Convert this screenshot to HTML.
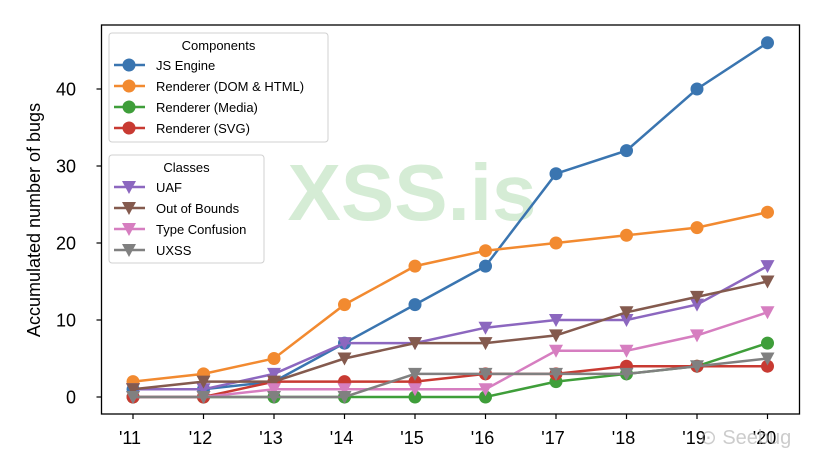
<!DOCTYPE html>
<html><head><meta charset="utf-8"><style>
body{margin:0;background:#fff}
svg{display:block;font-family:"Liberation Sans","DejaVu Sans",sans-serif}
</style></head><body>
<svg id="chart" width="824" height="466" viewBox="0 0 824 466">
<rect x="0" y="0" width="824" height="466" fill="#fff"/>
<text x="412" y="220" font-size="80" font-weight="bold" fill="#2ca02c" fill-opacity="0.2" text-anchor="middle">XSS.is</text>
<g id="grid"></g>
<g id="series"></g>
<rect x="101.5" y="25" width="698" height="389" fill="none" stroke="#000" stroke-width="1.3"/>
<text transform="translate(40,220) rotate(-90)" font-size="18" text-anchor="middle">Accumulated number of bugs</text>
<g id="legend"></g>
<text x="700" y="444" font-size="20" fill="#aaa" fill-opacity="0.6">⊙ Seebug</text>
</svg>
<script>
const years = ["'11","'12","'13","'14","'15","'16","'17","'18","'19","'20"];
const yTicks = [0,10,20,30,40];
const jsEngine = [1,1,2,7,12,17,29,32,40,46];
const domHtml = [2,3,5,12,17,19,20,21,22,24];
const media = [0,0,0,0,0,0,2,3,4,7];
const svgR = [0,0,2,2,2,3,3,4,4,4];
const uaf = [1,1,3,7,7,9,10,10,12,17];
const oob = [1,2,2,5,7,7,8,11,13,15];
const typeConf = [0,0,1,1,1,1,6,6,8,11];
const uxss = [0,0,0,0,3,3,3,3,4,5];

const NS="http://www.w3.org/2000/svg";
const xs = i => 133 + i*70.5;
const ys = v => 397 - v*7.7;
function mk(tag, attrs, parent){const e=document.createElementNS(NS,tag);for(const k in attrs)e.setAttribute(k,attrs[k]);parent.appendChild(e);return e;}
const grid=document.getElementById('grid'), ser=document.getElementById('series'), leg=document.getElementById('legend');

years.forEach((y,i)=>{
  const t=mk('line',{x1:xs(i),x2:xs(i),y1:414,y2:419,stroke:'#000','stroke-width':1.2},grid);
  
  
  const l=mk('text',{x:xs(i)-3,y:444,'font-size':18,'text-anchor':'middle'},grid);
  l.textContent=y;
  
  
});
yTicks.forEach(v=>{
  const t=mk('line',{x1:96.5,x2:101.5,y1:ys(v),y2:ys(v),stroke:'#000','stroke-width':1.2},grid);
  
  
  const l=mk('text',{x:76,y:ys(v)+6.5,'font-size':18,'text-anchor':'end'},grid);
  l.textContent=v;
  
  
});

function marker(g,x,y,shape,c){
  if(shape==='o') return mk('circle',{cx:x,cy:y,r:6.5,fill:c},g);
  return mk('path',{d:`M${x-7},${y-6}L${x+7},${y-6}L${x},${y+7}Z`,fill:c},g);
}
const seriesList=[
 ['js-engine',jsEngine,'#3a75b0','o'],
 ['renderer-dom-html',domHtml,'#f28a30','o'],
 ['renderer-media',media,'#3f9e3a','o'],
 ['renderer-svg',svgR,'#c83a32','o'],
 ['uaf',uaf,'#8c67bf','v'],
 ['out-of-bounds',oob,'#845a4e','v'],
 ['type-confusion',typeConf,'#d67ec0','v'],
 ['uxss',uxss,'#808080','v']
];
seriesList.forEach(([n,d,c,s])=>{
  const g=mk('g',{},ser);
  
  
  const p=mk('polyline',{points:d.map((v,i)=>xs(i)+','+ys(v)).join(' '),fill:'none',stroke:c,'stroke-width':2.5},g);
  
  
  d.forEach((v,i)=>{const m=marker(g,xs(i),ys(v),s,c);
    
    });
});

function legendBox(x,y,w,h,title,items){
  const g=mk('g',{},leg);
  
  
  mk('rect',{x:x,y:y,width:w,height:h,rx:3,fill:'#fff','fill-opacity':0.85,stroke:'#d0d0d0','stroke-width':1},g);
  const t=mk('text',{x:x+w/2,y:y+17,'font-size':13,'text-anchor':'middle'},g);
  t.textContent=title;
  items.forEach((it,i)=>{
    const yy=y+32+i*21;
    const e=mk('g',{},g);
    
    
    mk('line',{x1:x+5,x2:x+36,y1:yy,y2:yy,stroke:it[2],'stroke-width':2.5},e);
    marker(e,x+20,yy,it[3],it[2]);
    const l=mk('text',{x:x+47,y:yy+5,'font-size':13},e);
    l.textContent=it[0];
  });
}
legendBox(109,33,219,109,'Components',[
 ['JS Engine',0,'#3a75b0','o'],['Renderer (DOM & HTML)',0,'#f28a30','o'],['Renderer (Media)',0,'#3f9e3a','o'],['Renderer (SVG)',0,'#c83a32','o']]);
legendBox(109,155,155,108,'Classes',[
 ['UAF',0,'#8c67bf','v'],['Out of Bounds',0,'#845a4e','v'],['Type Confusion',0,'#d67ec0','v'],['UXSS',0,'#808080','v']]);
</script>
</body></html>
